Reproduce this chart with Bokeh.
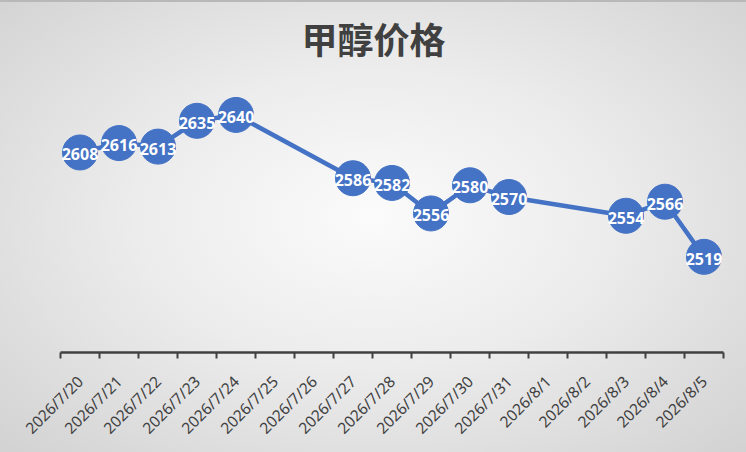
from bokeh.core.properties import value
from bokeh.embed import file_html
from bokeh.models import ColumnDataSource, FixedTicker, Label, Range1d
from bokeh.plotting import figure
from bokeh.resources import INLINE
import math

# all categories on the axis (weekends included, they just have no price)
dates = ["2026/7/20", "2026/7/21", "2026/7/22", "2026/7/23", "2026/7/24",
         "2026/7/25", "2026/7/26", "2026/7/27", "2026/7/28", "2026/7/29",
         "2026/7/30", "2026/7/31", "2026/8/1", "2026/8/2", "2026/8/3",
         "2026/8/4", "2026/8/5"]

price_dates = ["2026/7/20", "2026/7/21", "2026/7/22", "2026/7/23", "2026/7/24",
               "2026/7/27", "2026/7/28", "2026/7/29", "2026/7/30", "2026/7/31",
               "2026/8/3", "2026/8/4", "2026/8/5"]
prices = [2608, 2616, 2613, 2635, 2640, 2586, 2582, 2556, 2580, 2570, 2554, 2566, 2519]

blue = "#4472C4"
grey = "#404040"

# category i sits in the middle of slot [i, i+1]
xs = [dates.index(d) + 0.5 for d in price_dates]
src = ColumnDataSource(data=dict(x=xs, y=prices, label=[str(v) for v in prices]))

# frame runs up to the top edge so the title can sit inside it;
# the top of the y range leaves room for it (about 1.17 px per yuan)
p = figure(width=746, height=452, output_backend="svg", toolbar_location=None,
           x_range=Range1d(0, len(dates)), y_range=Range1d(2437.4, 2737.6),
           min_border_left=60, min_border_right=23, min_border_top=0, min_border_bottom=100)

# radial grey background like the Excel chart area
p.background_fill_alpha = 0
p.border_fill_alpha = 0
p.outline_line_color = None
p.styles = {"background": "radial-gradient(ellipse at 50% 48%, #fbfbfb 0%, #ececec 45%, #d2d2d2 100%)",
            "box-shadow": "inset 0 2px 0 #b8b8b8"}

# title centred on the whole chart area, not on the frame
title = Label(x=313, y=315, x_units="screen", y_units="screen", text="甲醇价格",
              text_font="Noto Sans CJK SC", text_font_size="36px", text_font_style="bold",
              text_color=grey, text_align="center", text_baseline="middle")
p.add_layout(title)

p.line("x", "y", source=src, line_color=blue, line_width=4.5)
p.scatter("x", "y", source=src, size=35, fill_color=blue, line_color=blue)
p.text("x", "y", text="label", source=src, text_color="white", text_font=value("Noto Sans"),
       text_font_size="16px", text_font_style="bold", text_align="center",
       text_baseline="middle", y_offset=2)

p.grid.visible = False
p.yaxis.visible = False

centers = [i + 0.5 for i in range(len(dates))]
ax = p.xaxis[0]
ax.ticker = FixedTicker(ticks=centers, minor_ticks=list(range(len(dates) + 1)))
ax.major_label_overrides = {c: d for c, d in zip(centers, dates)}
ax.major_label_orientation = math.pi / 4
ax.major_label_text_font = "Noto Sans"
ax.major_label_text_font_size = "15.5px"
ax.major_label_text_color = grey
ax.major_label_standoff = 20
ax.axis_line_color = grey
ax.axis_line_width = 2.5
ax.major_tick_line_color = None
ax.minor_tick_line_color = grey
ax.minor_tick_line_width = 2
ax.minor_tick_in = 0
ax.minor_tick_out = 6

open("out.html", "w").write(file_html(p, INLINE))
